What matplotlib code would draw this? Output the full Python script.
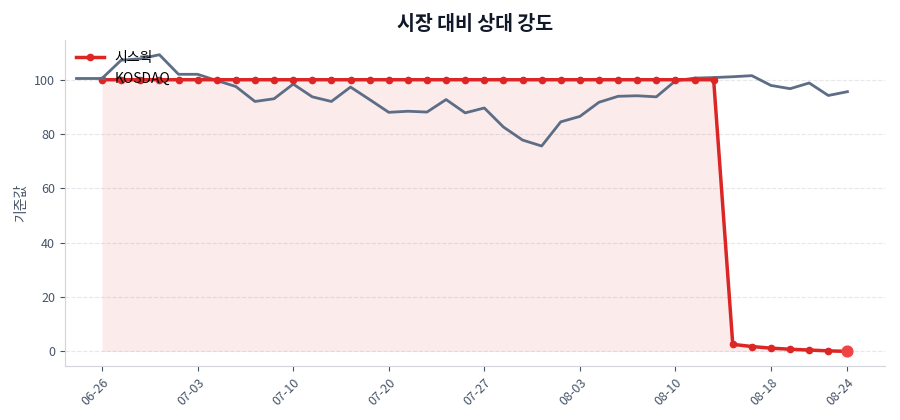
import matplotlib
matplotlib.use('Agg')
import matplotlib.pyplot as plt

plt.rcParams['font.family'] = ['Noto Sans CJK KR', 'DejaVu Sans']

dates = ['06-26', '06-27', '06-30', '07-01', '07-02', '07-03', '07-04', '07-07', '07-08', '07-09',
         '07-10', '07-13', '07-14', '07-16', '07-17', '07-20', '07-21', '07-22', '07-23', '07-24',
         '07-27', '07-28', '07-29', '07-30', '07-31', '08-03', '08-04', '08-05', '08-06', '08-07',
         '08-10', '08-11', '08-12', '08-13', '08-14', '08-18', '08-19', '08-20', '08-21', '08-24']

stock = [100] * 33 + [2.6, 1.8, 1.2, 0.8, 0.5, 0.2, 0.0]

kosdaq = [100.5, 107.2, 107.7, 109.2, 102.0, 102.0, 99.7, 97.5, 92.0, 93.0,
          98.4, 93.7, 92.0, 97.3, 92.7, 88.0, 88.4, 88.1, 92.7, 87.8,
          89.6, 82.6, 77.8, 75.6, 84.5, 86.5, 91.7, 93.9, 94.1, 93.7,
          99.6, 100.6, 100.8, 101.1, 101.5, 97.9, 96.7, 98.8, 94.2, 95.6]

stock_name = '시스웍'
index_name = 'KOSDAQ'

red = '#dc2626'
slate = '#5d6d85'

fig, ax = plt.subplots(figsize=(9, 4.2), dpi=100)
fig.subplots_adjust(left=0.072, right=0.983, top=0.905, bottom=0.128)

x = list(range(len(dates)))

ax.fill_between(x, stock, 0, color=red, alpha=0.09, lw=0)
ax.plot(x, stock, color=red, lw=2.5, marker='o', ms=4.5, label=stock_name, zorder=3)
ax.plot(x, kosdaq, color=slate, lw=2, label=index_name, zorder=2)
ax.scatter([x[-1]], [stock[-1]], s=60, color='#ef4444', zorder=4)

ticks = list(range(0, len(dates), 5))
if ticks[-1] != len(dates) - 1:
    ticks.append(len(dates) - 1)
ax.set_xticks(ticks)
ax.set_xticklabels([dates[i] for i in ticks], rotation=45, ha='right', rotation_mode='anchor')
ax.set_yticks(range(0, 101, 20))

ax.set_title('시장 대비 상대 강도', fontsize=14, fontweight='bold', color='#111827', pad=7)
ax.set_ylabel('기준값', fontsize=10, color='#475569')

for s in ['top', 'right']:
    ax.spines[s].set_visible(False)
for s in ['left', 'bottom']:
    ax.spines[s].set_color('#d1d5db')
ax.tick_params(colors='#475569', labelsize=9)
ax.tick_params(axis='both', color='#475569')
ax.grid(axis='y', linestyle='--', color='#e5e7eb', lw=0.8)
ax.set_axisbelow(True)

ax.legend(loc='upper left', frameon=False, fontsize=10, handlelength=2, borderaxespad=0.4)

fig.savefig('out.png', dpi=100)
